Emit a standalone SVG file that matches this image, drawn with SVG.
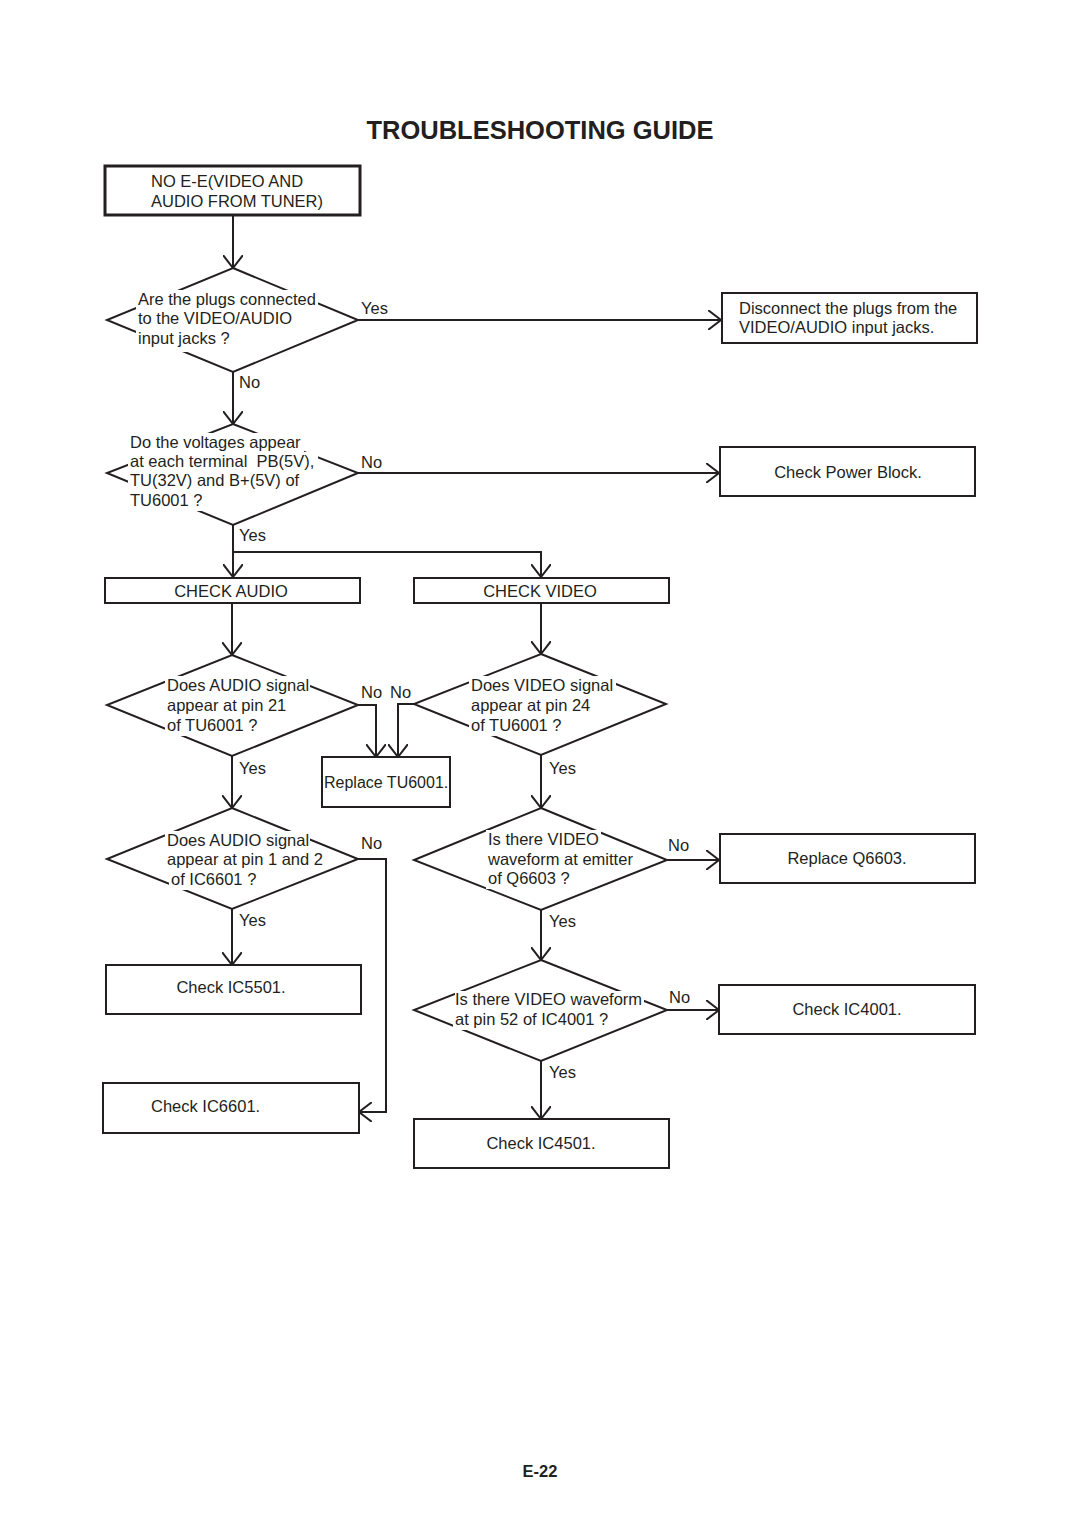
<svg xmlns="http://www.w3.org/2000/svg" width="1080" height="1528" viewBox="0 0 1080 1528">
<style>
text{font-family:"Liberation Sans",Arial,sans-serif;font-size:16.5px;fill:#231f20;white-space:pre}
.title{font-size:25.5px;font-weight:bold}
.foot{font-size:16.5px;font-weight:bold}
.mid{text-anchor:middle}
.box{fill:#fff;stroke:#231f20;stroke-width:2}
.dia{fill:#fff;stroke:#231f20;stroke-width:2;stroke-linejoin:miter}
.gap{fill:#fff;stroke:none}
.con{fill:none;stroke:#231f20;stroke-width:2;marker-end:url(#arr)}
</style>
<defs>
<marker id="arr" viewBox="0 0 14 20" refX="13" refY="10" markerWidth="14" markerHeight="20" markerUnits="userSpaceOnUse" orient="auto">
<path d="M0,0 L13,10 L0,20" fill="none" stroke="#231f20" stroke-width="2"/>
</marker>
</defs>
<rect width="1080" height="1528" fill="#fff"/>
<text class="title mid" x="540" y="139">TROUBLESHOOTING GUIDE</text>

<g id="connectors">
<path class="con" d="M233,215 V268"/>
<path class="con" d="M358,320 H721"/>
<path class="con" d="M233,372 V424"/>
<path class="con" d="M358,473 H719"/>
<path class="con" d="M233,525 V577"/>
<path class="con" d="M233,552 H541 V577"/>
<path class="con" d="M232,603 V655"/>
<path class="con" d="M541,603 V654"/>
<path class="con" d="M358,705 H376 V757"/>
<path class="con" d="M414,704 H398 V757"/>
<path class="con" d="M232,756 V808"/>
<path class="con" d="M541,755 V808"/>
<path class="con" d="M358,859 H386 V1112 H359"/>
<path class="con" d="M232,909 V965"/>
<path class="con" d="M667,860 H719"/>
<path class="con" d="M541,910 V960"/>
<path class="con" d="M667,1010 H719"/>
<path class="con" d="M541,1061 V1119"/>
</g>

<g id="labels">
<text x="361" y="314">Yes</text>
<text x="239" y="388">No</text>
<text x="361" y="468">No</text>
<text x="239" y="541">Yes</text>
<text x="361" y="698">No</text>
<text x="390" y="698">No</text>
<text x="239" y="774">Yes</text>
<text x="549" y="774">Yes</text>
<text x="361" y="849">No</text>
<text x="668" y="851">No</text>
<text x="239" y="926">Yes</text>
<text x="549" y="927">Yes</text>
<text x="669" y="1003">No</text>
<text x="549" y="1078">Yes</text>
</g>

<g id="n-start">
<rect class="box" x="105" y="166" width="255" height="49" style="stroke-width:3"/>
<text x="151" y="187">NO E-E(VIDEO AND</text>
<text x="151" y="207">AUDIO FROM TUNER)</text>
</g>

<g id="n-plugs">
<polygon class="dia" points="233,268 358,320 233,372 107,320"/>
<rect class="gap" x="136" y="290" width="182" height="20"/>
<rect class="gap" x="136" y="309" width="158" height="20"/>
<rect class="gap" x="136" y="328" width="96" height="24"/>
<text x="138" y="305">Are the plugs connected</text>
<text x="138" y="324">to the VIDEO/AUDIO</text>
<text x="138" y="344">input jacks ?</text>
</g>

<g id="n-disconnect">
<rect class="box" x="722" y="293" width="255" height="50"/>
<text x="739" y="314">Disconnect the plugs from the</text>
<text x="739" y="333">VIDEO/AUDIO input jacks.</text>
</g>

<g id="n-voltages">
<polygon class="dia" points="233,424 358,473 233,525 107,473"/>
<rect class="gap" x="128" y="433" width="176" height="20"/>
<rect class="gap" x="128" y="452" width="190" height="20"/>
<rect class="gap" x="128" y="471" width="174" height="20"/>
<rect class="gap" x="128" y="490" width="76" height="21"/>
<text x="130" y="448">Do the voltages appear</text>
<text x="130" y="467">at each terminal  PB(5V),</text>
<text x="130" y="486">TU(32V) and B+(5V) of</text>
<text x="130" y="506">TU6001 ?</text>
</g>

<g id="n-power">
<rect class="box" x="720" y="447" width="255" height="49"/>
<text class="mid" x="848" y="478">Check Power Block.</text>
</g>

<g id="n-checkaudio">
<rect class="box" x="105" y="578" width="255" height="25"/>
<text class="mid" x="231" y="597">CHECK AUDIO</text>
</g>

<g id="n-checkvideo">
<rect class="box" x="414" y="578" width="255" height="25"/>
<text class="mid" x="540" y="597">CHECK VIDEO</text>
</g>

<g id="n-audio21">
<polygon class="dia" points="232,655 358,705 232,756 107,705"/>
<rect class="gap" x="165" y="676" width="145" height="20"/>
<rect class="gap" x="165" y="695" width="123" height="20"/>
<rect class="gap" x="165" y="715" width="95" height="21"/>
<text x="167" y="691">Does AUDIO signal</text>
<text x="167" y="711">appear at pin 21</text>
<text x="167" y="731">of TU6001 ?</text>
</g>

<g id="n-video24">
<polygon class="dia" points="541,654 666,704 541,755 414,704"/>
<rect class="gap" x="469" y="676" width="147" height="20"/>
<rect class="gap" x="469" y="695" width="123" height="20"/>
<rect class="gap" x="469" y="715" width="95" height="21"/>
<text x="471" y="691">Does VIDEO signal</text>
<text x="471" y="711">appear at pin 24</text>
<text x="471" y="731">of TU6001 ?</text>
</g>

<g id="n-replacetu">
<rect class="box" x="322" y="757" width="128" height="50"/>
<text x="324" y="788" style="font-size:16px">Replace TU6001.</text>
</g>

<g id="n-audio12">
<polygon class="dia" points="232,808 358,859 232,909 107,859"/>
<rect class="gap" x="165" y="831" width="145" height="20"/>
<rect class="gap" x="165" y="850" width="160" height="20"/>
<rect class="gap" x="169" y="869" width="89" height="21"/>
<text x="167" y="846">Does AUDIO signal</text>
<text x="167" y="865">appear at pin 1 and 2</text>
<text x="171" y="885">of IC6601 ?</text>
</g>

<g id="n-q6603">
<polygon class="dia" points="541,808 667,860 541,910 414,860"/>
<rect class="gap" x="486" y="830" width="115" height="20"/>
<rect class="gap" x="486" y="849" width="149" height="20"/>
<rect class="gap" x="486" y="868" width="86" height="21"/>
<text x="488" y="845">Is there VIDEO</text>
<text x="488" y="865">waveform at emitter</text>
<text x="488" y="884">of Q6603 ?</text>
</g>

<g id="n-replaceq">
<rect class="box" x="720" y="834" width="255" height="49"/>
<text class="mid" x="847" y="864">Replace Q6603.</text>
</g>

<g id="n-ic5501">
<rect class="box" x="106" y="965" width="255" height="49"/>
<text class="mid" x="231" y="993">Check IC5501.</text>
</g>

<g id="n-ic4001q">
<polygon class="dia" points="541,960 667,1010 541,1061 414,1010"/>
<rect class="gap" x="455" y="991" width="189" height="19"/>
<rect class="gap" x="453" y="1010" width="157" height="20"/>
<text x="455" y="1005">Is there VIDEO waveform</text>
<text x="455" y="1025">at pin 52 of IC4001 ?</text>
</g>

<g id="n-ic4001">
<rect class="box" x="719" y="985" width="256" height="49"/>
<text class="mid" x="847" y="1015">Check IC4001.</text>
</g>

<g id="n-ic6601">
<rect class="box" x="103" y="1083" width="256" height="50"/>
<text x="151" y="1112">Check IC6601.</text>
</g>

<g id="n-ic4501">
<rect class="box" x="414" y="1119" width="255" height="49"/>
<text class="mid" x="541" y="1149">Check IC4501.</text>
</g>

<text class="foot mid" x="540" y="1477">E-22</text>
</svg>
